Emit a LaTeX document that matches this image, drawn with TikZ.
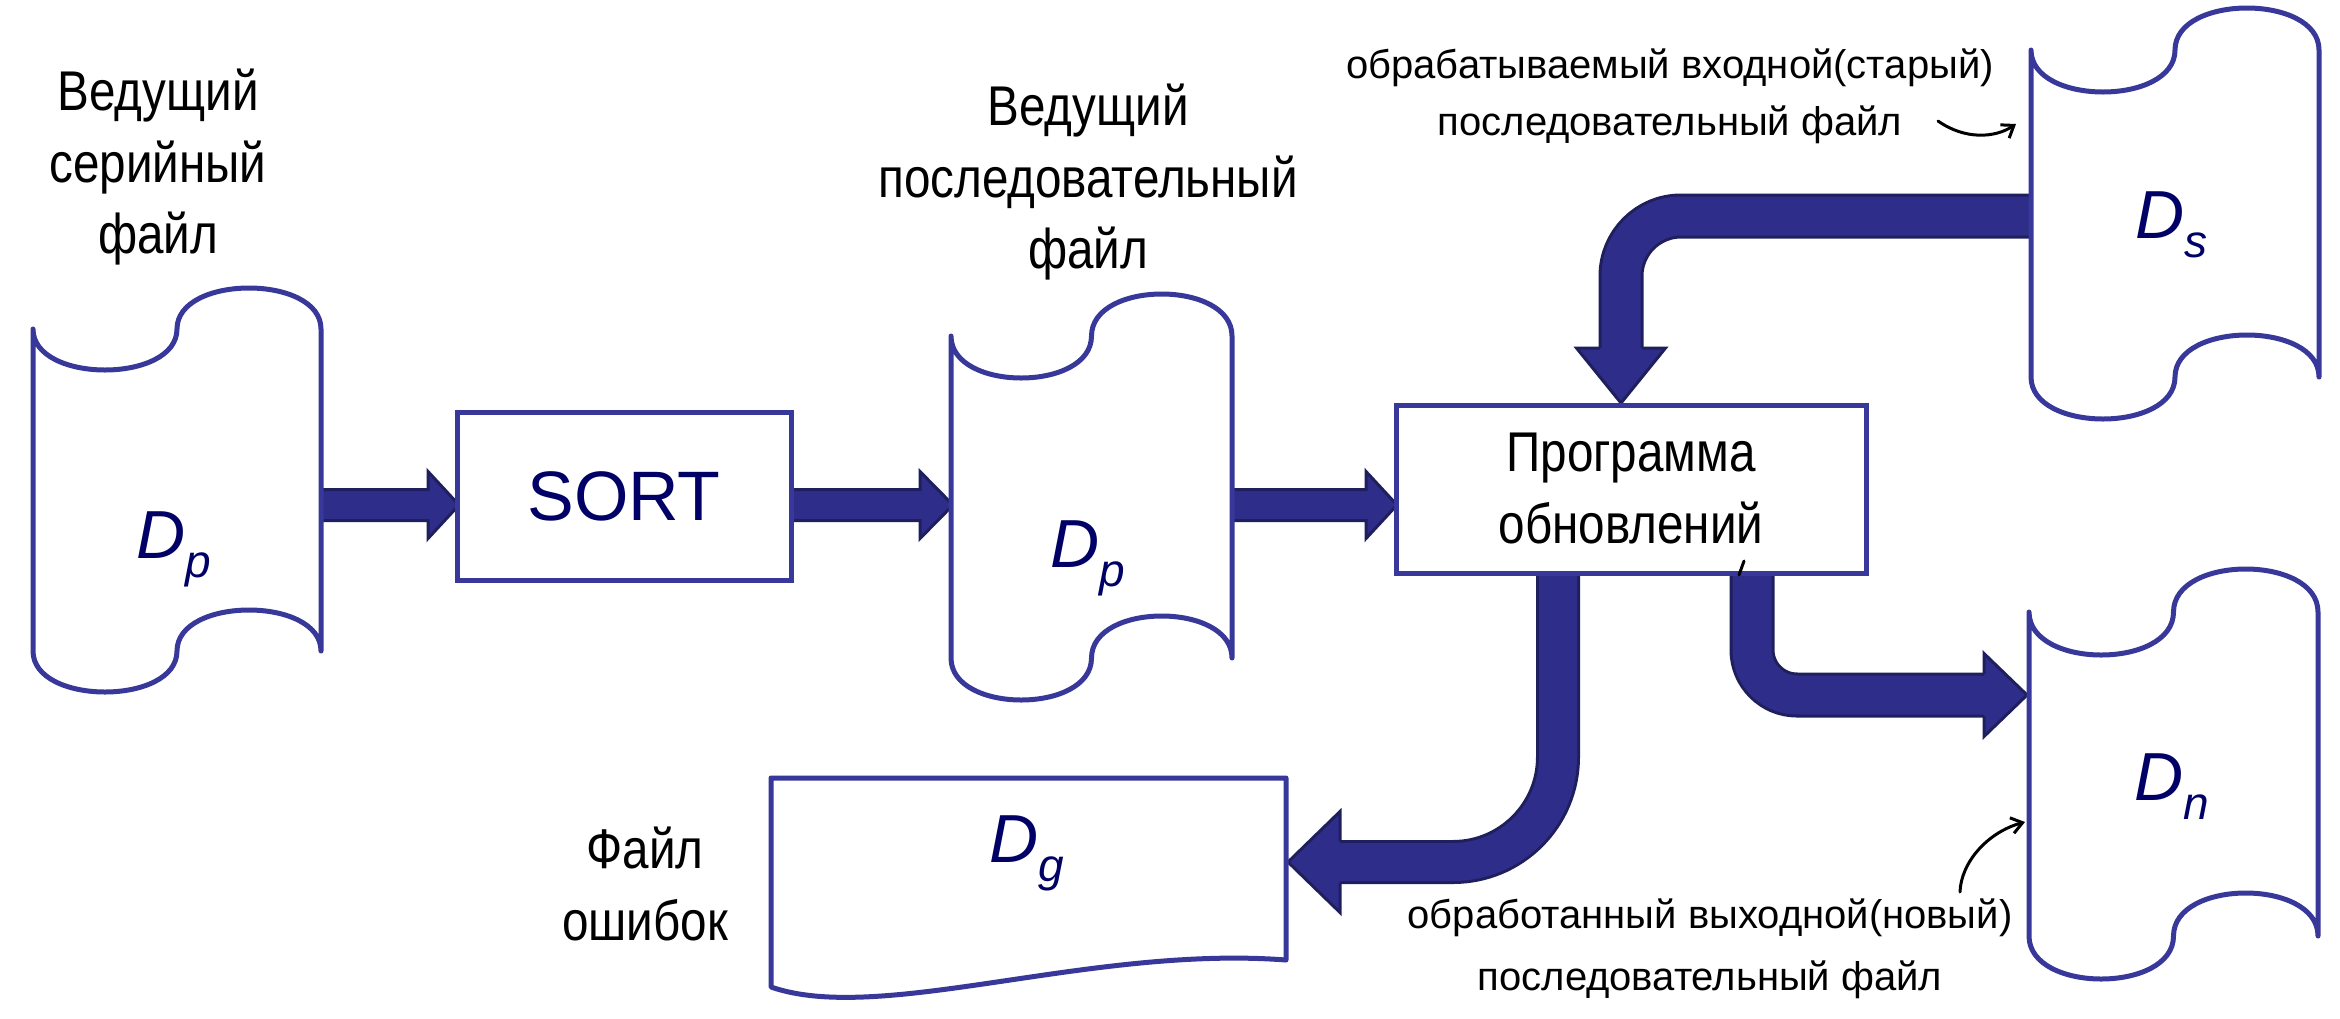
\documentclass[tikz,border=0pt]{standalone}
\usepackage{fontspec}
\setmainfont{Liberation Sans}
\newfontfamily\narrowfont[FakeStretch=0.85]{Liberation Sans}
\usetikzlibrary{arrows.meta}
\definecolor{tapeblue}{RGB}{56,56,154}
\definecolor{arrowfill}{RGB}{46,46,138}
\definecolor{arrowborder}{RGB}{31,31,94}
\definecolor{navytext}{RGB}{0,0,102}
\tikzset{
  tapeline/.style={draw=tapeblue, line width=5pt, fill=white, line join=round},
  boxline/.style={draw=tapeblue, line width=5pt, fill=white, inner sep=0pt},
  fatarrow/.style={draw=arrowborder, line width=3pt, fill=arrowfill, line join=miter},
  shaft/.style={draw=arrowborder, line width=3pt, double=arrowfill, double distance=#1},
  shaft/.default=39pt,
  headborder/.style={draw=arrowborder, line width=3pt, line join=miter},
  lbl/.style={font=\narrowfont\fontsize{56}{72}\selectfont, anchor=base, inner sep=0pt},
  note/.style={font=\fontsize{40}{48}\selectfont, anchor=base, inner sep=0pt},
  dlab/.style={font=\itshape\fontsize{68}{68}\selectfont, text=navytext, anchor=base west, inner sep=0pt},
  hand/.style={draw=black, line width=3pt, line cap=round, -{Straight Barb[length=11pt,width=16pt]}}
}
\newcommand\subsc[1]{\raisebox{-19pt}{\fontsize{46}{46}\selectfont #1}}
\newcommand\tapedraw[6]{%
  \pgfmathsetmacro\tpm{(#2+#3)/2}%
  \pgfmathsetmacro\tpc{4/3*#6}%
  \draw[tapeline] (#2,#4) .. controls (#2,#4+\tpc) and (\tpm,#4+\tpc) .. (\tpm,#4)
    .. controls (\tpm,#4-\tpc) and (#3,#4-\tpc) .. (#3,#4)
    -- (#3,#5) .. controls (#3,#5-\tpc) and (\tpm,#5-\tpc) .. (\tpm,#5)
    .. controls (\tpm,#5+\tpc) and (#2,#5+\tpc) .. (#2,#5) -- cycle;
  \coordinate (#1-w) at (#2,{(#4+#5)/2});
  \coordinate (#1-e) at (#3,{(#4+#5)/2});
}
\newcommand\rarrow[4]{%
  \draw[fatarrow] (#1,#4-15.5) -- (#2,#4-15.5) -- (#2,#4-33.5) -- (#3,#4)
    -- (#2,#4+33.5) -- (#2,#4+15.5) -- (#1,#4+15.5) -- cycle;
}
\begin{document}
\begin{tikzpicture}[x=1pt,y=-1pt]
\fill[white] (0,0) rectangle (2340,1018);
\useasboundingbox (0,0) rectangle (2340,1018);

% ---------- connectors (drawn first, shapes on top) ----------
% tape -> SORT, SORT -> tape, tape -> program
\rarrow{321}{428}{459}{505}
\rarrow{791}{920}{953}{505}
\rarrow{1232}{1366}{1397}{505}

% Ds -> program
\draw[shaft, rounded corners=60pt] (2036,216) -- (1621,216) -- (1621,352);
\fill[arrowfill] (1576.5,348) -- (1665.5,348) -- (1621,403) -- cycle;
\draw[headborder] (1600,348) -- (1576.5,348) -- (1621,403) -- (1665.5,348) -- (1642,348);

% program -> Dg
\draw[shaft=38pt, rounded corners=105pt] (1558,571) -- (1558,862) -- (1336,862);
\fill[arrowfill] (1340,811.5) -- (1340,912.5) -- (1288,862) -- cycle;
\draw[headborder] (1340,841.5) -- (1340,811.5) -- (1288,862) -- (1340,912.5) -- (1340,882.5);

% program -> Dn
\draw[shaft, rounded corners=45pt] (1752,571) -- (1752,695) -- (1988,695);
\fill[arrowfill] (1984,653.5) -- (1984,736.5) -- (2027,695) -- cycle;
\draw[headborder] (1984,674) -- (1984,653.5) -- (2027,695) -- (1984,736.5) -- (1984,716);

% ---------- tapes ----------
\tapedraw{tA}{33}{321}{329}{651}{41}
\tapedraw{tB}{951}{1232}{336}{658}{42}
\tapedraw{tS}{2031}{2319}{50}{377}{42}
\tapedraw{tN}{2029}{2318}{612}{936}{43}

% ---------- boxes ----------
\node[boxline, minimum width=334pt, minimum height=168pt,
      font=\fontsize{70}{70}\selectfont, text=navytext] (sort) at (624,496) {SORT};
\node[boxline, minimum width=470pt, minimum height=168pt, align=center,
      font=\narrowfont\fontsize{56}{72}\selectfont] (prog) at (1631,489) {Программа\\обновлений};

% error document
\draw[tapeline] (771,778) -- (1286,778) -- (1286,960)
   .. controls (1090,945) and (880,1025) .. (771,987) -- cycle;
\coordinate (dg-e) at (1286,862);

% ---------- D labels ----------
\node[dlab] (dA) at (136,558) {D\subsc{p}};
\node[dlab] (dB) at (1050,567) {D\subsc{p}};
\node[dlab] (dS) at (2135,238) {D\subsc{s}};
\node[dlab] (dN) at (2134,800) {D\subsc{n}};
\node[dlab] (dG) at (989,862) {D\subsc{g}};

% ---------- black labels ----------
\node[lbl] (ls1) at (158,110) {Ведущий};
\node[lbl] (ls2) at (158,182) {серийный};
\node[lbl] (ls3) at (158,253) {файл};
\node[lbl] (lm1) at (1088,125) {Ведущий};
\node[lbl] (lm2) at (1088,197) {последовательный};
\node[lbl] (lm3) at (1088,268) {файл};
\node[lbl] (le1) at (645,868) {Файл};
\node[lbl] (le2) at (645,940) {ошибок};

\node[note] (ni1) at (1670,78) {обрабатываемый входной(старый)};
\node[note] (ni2) at (1670,135) {последовательный файл};
\node[note] (no1) at (1710,928) {обработанный выходной(новый)};
\node[note] (no2) at (1710,990) {последовательный файл};

% ---------- hand-drawn pointers ----------
\coordinate (hi1) at (1938,121);
\coordinate (hi2) at (2016,124);
\draw[hand] (hi1) .. controls (1965,140) and (1995,138) .. (hi2);
\coordinate (ho1) at (1960,892);
\coordinate (ho2) at (2025,822);
\draw[hand] (ho1) .. controls (1961,862) and (1988,832) .. (ho2);
\draw[black, line width=3pt, line cap=round] (1744,561) -- (1739,575);
\end{tikzpicture}
\end{document}
